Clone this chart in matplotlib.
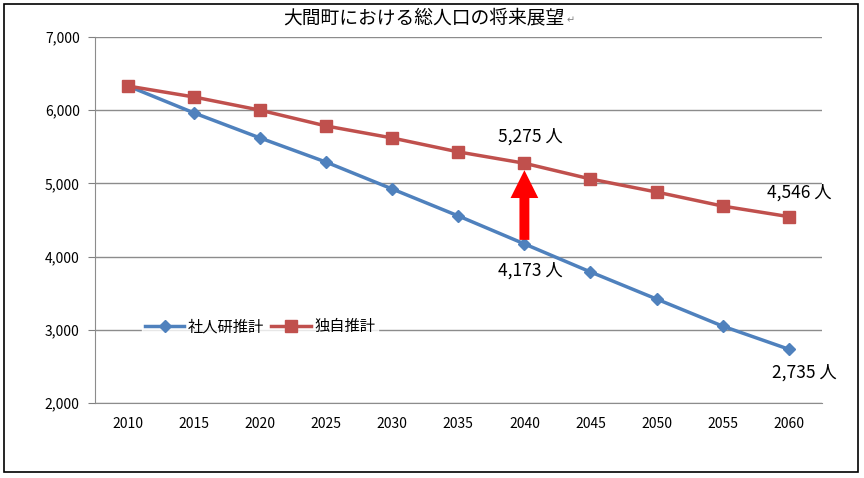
import matplotlib
matplotlib.use("Agg")
import matplotlib.pyplot as plt
from matplotlib.patches import Rectangle, FancyArrow

plt.rcParams['font.family'] = ['Noto Sans CJK JP', 'DejaVu Sans']

years = ['2010', '2015', '2020', '2025', '2030', '2035', '2040', '2045', '2050', '2055', '2060']
shajinken = [6330, 5962, 5620, 5290, 4923, 4555, 4173, 3790, 3420, 3050, 2735]
dokuji = [6330, 6180, 6000, 5784, 5620, 5430, 5275, 5060, 4882, 4690, 4546]
title = '大間町における総人口の将来展望'

blue = '#4F81BD'
red = '#C0504D'

fig = plt.figure(figsize=(8.64, 4.78), dpi=100)
ax = fig.add_axes([0.110, 0.157, 0.841, 0.7656])

x = list(range(len(years)))
ax.plot(x, shajinken, color=blue, linewidth=2.5, marker='D', markersize=6.5,
        label='社人研推計', zorder=3)
ax.plot(x, dokuji, color=red, linewidth=2.5, marker='s', markersize=8,
        label='独自推計', zorder=3)

# axis config
ax.set_xlim(-0.5, len(years) - 0.5)
ax.set_ylim(2000, 7000)
ax.set_yticks(range(2000, 7001, 1000))
ax.set_yticklabels([f'{v:,}' for v in range(2000, 7001, 1000)])
ax.set_xticks(x)
ax.set_xticklabels(years)
ax.tick_params(axis='y', length=5, color='#808080', labelsize=10, pad=6)
ax.tick_params(axis='x', length=0, labelsize=10, pad=10)
ax.grid(axis='y', color='#8c8c8c', linewidth=1)
ax.set_axisbelow(True)
for side in ['top', 'right']:
    ax.spines[side].set_visible(False)
for side in ['left', 'bottom']:
    ax.spines[side].set_color('#8c8c8c')

# labels for 2040 and 2060
i40 = years.index('2040')
i60 = years.index('2060')
ax.annotate(f'{dokuji[i40]:,} 人', (i40, dokuji[i40]), xytext=(4, 19),
            textcoords='offset points', ha='center', va='center', fontsize=12.5)
ax.annotate(f'{shajinken[i40]:,} 人', (i40, shajinken[i40]), xytext=(4, -19),
            textcoords='offset points', ha='center', va='center', fontsize=12.5)
ax.annotate(f'{dokuji[i60]:,} 人', (i60, dokuji[i60]), xytext=(8, 17),
            textcoords='offset points', ha='center', va='center', fontsize=12.5)
ax.annotate(f'{shajinken[i60]:,} 人', (i60, shajinken[i60]), xytext=(11, -17),
            textcoords='offset points', ha='center', va='center', fontsize=12.5)

# red arrow between the two projections
gap = dokuji[i40] - shajinken[i40]
ax.add_patch(FancyArrow(i40, shajinken[i40] + 55, 0, gap - 150, width=0.15,
                        head_width=0.42, head_length=380,
                        length_includes_head=True, color='#ff0000',
                        linewidth=0, zorder=4))

leg = ax.legend(loc='center', bbox_to_anchor=(0.227, 0.208), ncol=2,
                frameon=True, fontsize=11, handlelength=2.6,
                columnspacing=0.5, handletextpad=0.2, borderpad=0.2,
                fancybox=False)
leg.get_frame().set_facecolor('white')
leg.get_frame().set_edgecolor('white')

# title over the top grid line
fig.text(0.491, 0.962, title, ha='center', va='center', fontsize=13.5,
         bbox=dict(facecolor='white', edgecolor='none', pad=1.5), zorder=5)
fig.text(0.66, 0.957, '↵', ha='center', va='center', fontsize=7,
         color='#808080', zorder=6)

# outer frame
fig.patches.append(Rectangle((0.005, 0.012), 0.988, 0.98,
                             transform=fig.transFigure, fill=False,
                             edgecolor='black', linewidth=1.2, zorder=10))

fig.savefig('out.png', dpi=100)
